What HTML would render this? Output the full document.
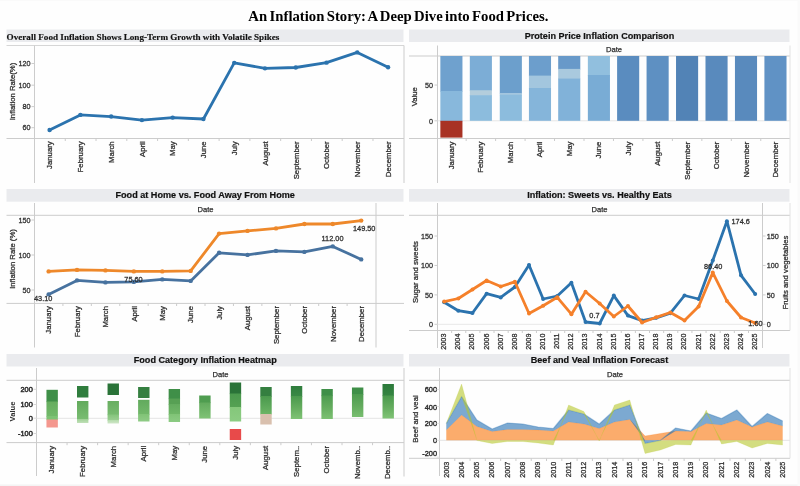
<!DOCTYPE html>
<html lang="en"><head><meta charset="utf-8"><title>An Inflation Story: A Deep Dive into Food Prices.</title>
<style>
html,body{margin:0;padding:0;background:#fff;}
body{width:800px;height:486px;overflow:hidden;}
svg{display:block;}
text.s{font-family:"Liberation Sans",sans-serif;}
text.r{font-family:"Liberation Serif",serif;}
</style></head><body>
<svg width="800" height="486" viewBox="0 0 800 486" role="img" aria-label="An Inflation Story dashboard">
<rect width="800" height="486" fill="#fefefe"/>
<rect x="0" y="484.4" width="800" height="1.6" fill="#f4f4f4"/>
<rect x="797.5" y="0" width="2.5" height="486" fill="#fafafa"/>
<rect x="0" y="0" width="800" height="1" fill="#fafafa"/>
<text class="r" transform="translate(398.40 21.00) scale(1.075 1)" font-size="13.7" text-anchor="middle" font-weight="bold" fill="#000" word-spacing="-1.2">An Inflation Story: A Deep Dive into Food Prices.</text>
<g id="c1">
<rect x="6.50" y="29.50" width="397.00" height="12.50" fill="#eaebee" />
<text class="r" transform="translate(6.60 40.10)" font-size="9.15" text-anchor="start" font-weight="bold" fill="#111" stroke="#111" stroke-width="0.15">Overall Food Inflation Shows Long-Term Growth with Volatile Spikes</text>
<line x1="6.5" y1="45.5" x2="404" y2="45.5" stroke="#d6d6d6" stroke-width="1"/>
<line x1="6.5" y1="138.5" x2="404" y2="138.5" stroke="#cccccc" stroke-width="1"/>
<line x1="34.5" y1="45.5" x2="34.5" y2="183" stroke="#cccccc" stroke-width="1"/>
<line x1="404" y1="45.5" x2="404" y2="183" stroke="#cccccc" stroke-width="1"/>
<line x1="31.5" y1="127.7" x2="34.5" y2="127.7" stroke="#cccccc" stroke-width="1"/>
<text class="s" transform="translate(30.60 130.44) scale(0.95 1)" font-size="7.6" text-anchor="end" fill="#2f2f2f" stroke="#2f2f2f" stroke-width="0.28">60</text>
<line x1="31.5" y1="106.6" x2="34.5" y2="106.6" stroke="#cccccc" stroke-width="1"/>
<text class="s" transform="translate(30.60 109.34) scale(0.95 1)" font-size="7.6" text-anchor="end" fill="#2f2f2f" stroke="#2f2f2f" stroke-width="0.28">80</text>
<line x1="31.5" y1="85.2" x2="34.5" y2="85.2" stroke="#cccccc" stroke-width="1"/>
<text class="s" transform="translate(30.60 87.94) scale(0.95 1)" font-size="7.6" text-anchor="end" fill="#2f2f2f" stroke="#2f2f2f" stroke-width="0.28">100</text>
<line x1="31.5" y1="63.5" x2="34.5" y2="63.5" stroke="#cccccc" stroke-width="1"/>
<text class="s" transform="translate(30.60 66.24) scale(0.95 1)" font-size="7.6" text-anchor="end" fill="#2f2f2f" stroke="#2f2f2f" stroke-width="0.28">120</text>
<text class="s" transform="translate(15.24 91.50) rotate(-90) scale(1.02 1)" font-size="7.6" text-anchor="middle" fill="#2f2f2f" stroke="#2f2f2f" stroke-width="0.28">Inflation Rate(%)</text>
<text class="s" transform="translate(52.34 141.30) rotate(-90) scale(1.025 1)" font-size="7.6" text-anchor="end" fill="#2f2f2f" stroke="#2f2f2f" stroke-width="0.28">January</text>
<text class="s" transform="translate(83.11 141.30) rotate(-90) scale(1.025 1)" font-size="7.6" text-anchor="end" fill="#2f2f2f" stroke="#2f2f2f" stroke-width="0.28">February</text>
<text class="s" transform="translate(113.88 141.30) rotate(-90) scale(1.025 1)" font-size="7.6" text-anchor="end" fill="#2f2f2f" stroke="#2f2f2f" stroke-width="0.28">March</text>
<text class="s" transform="translate(144.65 141.30) rotate(-90) scale(1.025 1)" font-size="7.6" text-anchor="end" fill="#2f2f2f" stroke="#2f2f2f" stroke-width="0.28">April</text>
<text class="s" transform="translate(175.42 141.30) rotate(-90) scale(1.025 1)" font-size="7.6" text-anchor="end" fill="#2f2f2f" stroke="#2f2f2f" stroke-width="0.28">May</text>
<text class="s" transform="translate(206.19 141.30) rotate(-90) scale(1.025 1)" font-size="7.6" text-anchor="end" fill="#2f2f2f" stroke="#2f2f2f" stroke-width="0.28">June</text>
<text class="s" transform="translate(236.96 141.30) rotate(-90) scale(1.025 1)" font-size="7.6" text-anchor="end" fill="#2f2f2f" stroke="#2f2f2f" stroke-width="0.28">July</text>
<text class="s" transform="translate(267.73 141.30) rotate(-90) scale(1.025 1)" font-size="7.6" text-anchor="end" fill="#2f2f2f" stroke="#2f2f2f" stroke-width="0.28">August</text>
<text class="s" transform="translate(298.50 141.30) rotate(-90) scale(1.025 1)" font-size="7.6" text-anchor="end" fill="#2f2f2f" stroke="#2f2f2f" stroke-width="0.28">September</text>
<text class="s" transform="translate(329.27 141.30) rotate(-90) scale(1.025 1)" font-size="7.6" text-anchor="end" fill="#2f2f2f" stroke="#2f2f2f" stroke-width="0.28">October</text>
<text class="s" transform="translate(360.04 141.30) rotate(-90) scale(1.025 1)" font-size="7.6" text-anchor="end" fill="#2f2f2f" stroke="#2f2f2f" stroke-width="0.28">November</text>
<text class="s" transform="translate(390.81 141.30) rotate(-90) scale(1.025 1)" font-size="7.6" text-anchor="end" fill="#2f2f2f" stroke="#2f2f2f" stroke-width="0.28">December</text>
<line x1="65.27" y1="138.5" x2="65.27" y2="141" stroke="#cccccc" stroke-width="1"/>
<line x1="96.03999999999999" y1="138.5" x2="96.03999999999999" y2="141" stroke="#cccccc" stroke-width="1"/>
<line x1="126.81" y1="138.5" x2="126.81" y2="141" stroke="#cccccc" stroke-width="1"/>
<line x1="157.57999999999998" y1="138.5" x2="157.57999999999998" y2="141" stroke="#cccccc" stroke-width="1"/>
<line x1="188.35" y1="138.5" x2="188.35" y2="141" stroke="#cccccc" stroke-width="1"/>
<line x1="219.12" y1="138.5" x2="219.12" y2="141" stroke="#cccccc" stroke-width="1"/>
<line x1="249.89" y1="138.5" x2="249.89" y2="141" stroke="#cccccc" stroke-width="1"/>
<line x1="280.65999999999997" y1="138.5" x2="280.65999999999997" y2="141" stroke="#cccccc" stroke-width="1"/>
<line x1="311.43" y1="138.5" x2="311.43" y2="141" stroke="#cccccc" stroke-width="1"/>
<line x1="342.2" y1="138.5" x2="342.2" y2="141" stroke="#cccccc" stroke-width="1"/>
<line x1="372.96999999999997" y1="138.5" x2="372.96999999999997" y2="141" stroke="#cccccc" stroke-width="1"/>
<polyline points="49.60,129.99 80.37,114.91 111.14,116.53 141.91,120.08 172.68,117.60 203.45,119.00 234.22,62.87 264.99,68.36 295.76,67.50 326.53,62.65 357.30,52.41 388.07,67.18" fill="none" stroke="#2b73ae" stroke-width="2.8" stroke-linejoin="round" stroke-linecap="round"/>
<circle cx="49.60" cy="129.99" r="2.2" fill="#2b73ae"/>
<circle cx="80.37" cy="114.91" r="2.2" fill="#2b73ae"/>
<circle cx="111.14" cy="116.53" r="2.2" fill="#2b73ae"/>
<circle cx="141.91" cy="120.08" r="2.2" fill="#2b73ae"/>
<circle cx="172.68" cy="117.60" r="2.2" fill="#2b73ae"/>
<circle cx="203.45" cy="119.00" r="2.2" fill="#2b73ae"/>
<circle cx="234.22" cy="62.87" r="2.2" fill="#2b73ae"/>
<circle cx="264.99" cy="68.36" r="2.2" fill="#2b73ae"/>
<circle cx="295.76" cy="67.50" r="2.2" fill="#2b73ae"/>
<circle cx="326.53" cy="62.65" r="2.2" fill="#2b73ae"/>
<circle cx="357.30" cy="52.41" r="2.2" fill="#2b73ae"/>
<circle cx="388.07" cy="67.18" r="2.2" fill="#2b73ae"/>
</g>
<g id="c2">
<rect x="6.50" y="189.00" width="397.00" height="12.70" fill="#eaebee" />
<text class="s" transform="translate(205.20 198.40)" font-size="9.1" text-anchor="middle" font-weight="bold" fill="#111" stroke="#111" stroke-width="0.2">Food at Home vs. Food Away From Home</text>
<text class="s" transform="translate(205.50 211.80)" font-size="7.6" text-anchor="middle" fill="#2f2f2f" stroke="#2f2f2f" stroke-width="0.25">Date</text>
<line x1="6.5" y1="215.3" x2="404" y2="215.3" stroke="#cccccc" stroke-width="1"/>
<line x1="6.5" y1="303.4" x2="404" y2="303.4" stroke="#cccccc" stroke-width="1"/>
<line x1="34.5" y1="203" x2="34.5" y2="347.5" stroke="#cccccc" stroke-width="1"/>
<line x1="376" y1="203" x2="376" y2="347.5" stroke="#cccccc" stroke-width="1"/>
<line x1="31.5" y1="290.0" x2="34.5" y2="290.0" stroke="#cccccc" stroke-width="1"/>
<text class="s" transform="translate(30.60 292.74) scale(0.95 1)" font-size="7.6" text-anchor="end" fill="#2f2f2f" stroke="#2f2f2f" stroke-width="0.28">50</text>
<line x1="31.5" y1="255.0" x2="34.5" y2="255.0" stroke="#cccccc" stroke-width="1"/>
<text class="s" transform="translate(30.60 257.74) scale(0.95 1)" font-size="7.6" text-anchor="end" fill="#2f2f2f" stroke="#2f2f2f" stroke-width="0.28">100</text>
<line x1="31.5" y1="220.0" x2="34.5" y2="220.0" stroke="#cccccc" stroke-width="1"/>
<text class="s" transform="translate(30.60 222.74) scale(0.95 1)" font-size="7.6" text-anchor="end" fill="#2f2f2f" stroke="#2f2f2f" stroke-width="0.28">150</text>
<text class="s" transform="translate(15.24 259.00) rotate(-90) scale(1.02 1)" font-size="7.6" text-anchor="middle" fill="#2f2f2f" stroke="#2f2f2f" stroke-width="0.28">Inflation Rate (%)</text>
<text class="s" transform="translate(51.34 306.00) rotate(-90) scale(1.025 1)" font-size="7.6" text-anchor="end" fill="#2f2f2f" stroke="#2f2f2f" stroke-width="0.28">January</text>
<text class="s" transform="translate(79.76 306.00) rotate(-90) scale(1.025 1)" font-size="7.6" text-anchor="end" fill="#2f2f2f" stroke="#2f2f2f" stroke-width="0.28">February</text>
<text class="s" transform="translate(108.18 306.00) rotate(-90) scale(1.025 1)" font-size="7.6" text-anchor="end" fill="#2f2f2f" stroke="#2f2f2f" stroke-width="0.28">March</text>
<text class="s" transform="translate(136.60 306.00) rotate(-90) scale(1.025 1)" font-size="7.6" text-anchor="end" fill="#2f2f2f" stroke="#2f2f2f" stroke-width="0.28">April</text>
<text class="s" transform="translate(165.02 306.00) rotate(-90) scale(1.025 1)" font-size="7.6" text-anchor="end" fill="#2f2f2f" stroke="#2f2f2f" stroke-width="0.28">May</text>
<text class="s" transform="translate(193.44 306.00) rotate(-90) scale(1.025 1)" font-size="7.6" text-anchor="end" fill="#2f2f2f" stroke="#2f2f2f" stroke-width="0.28">June</text>
<text class="s" transform="translate(221.86 306.00) rotate(-90) scale(1.025 1)" font-size="7.6" text-anchor="end" fill="#2f2f2f" stroke="#2f2f2f" stroke-width="0.28">July</text>
<text class="s" transform="translate(250.28 306.00) rotate(-90) scale(1.025 1)" font-size="7.6" text-anchor="end" fill="#2f2f2f" stroke="#2f2f2f" stroke-width="0.28">August</text>
<text class="s" transform="translate(278.70 306.00) rotate(-90) scale(1.025 1)" font-size="7.6" text-anchor="end" fill="#2f2f2f" stroke="#2f2f2f" stroke-width="0.28">September</text>
<text class="s" transform="translate(307.12 306.00) rotate(-90) scale(1.025 1)" font-size="7.6" text-anchor="end" fill="#2f2f2f" stroke="#2f2f2f" stroke-width="0.28">October</text>
<text class="s" transform="translate(335.54 306.00) rotate(-90) scale(1.025 1)" font-size="7.6" text-anchor="end" fill="#2f2f2f" stroke="#2f2f2f" stroke-width="0.28">November</text>
<text class="s" transform="translate(363.96 306.00) rotate(-90) scale(1.025 1)" font-size="7.6" text-anchor="end" fill="#2f2f2f" stroke="#2f2f2f" stroke-width="0.28">December</text>
<line x1="62.92" y1="303.4" x2="62.92" y2="306" stroke="#cccccc" stroke-width="1"/>
<line x1="91.34" y1="303.4" x2="91.34" y2="306" stroke="#cccccc" stroke-width="1"/>
<line x1="119.76" y1="303.4" x2="119.76" y2="306" stroke="#cccccc" stroke-width="1"/>
<line x1="148.18" y1="303.4" x2="148.18" y2="306" stroke="#cccccc" stroke-width="1"/>
<line x1="176.60000000000002" y1="303.4" x2="176.60000000000002" y2="306" stroke="#cccccc" stroke-width="1"/>
<line x1="205.02" y1="303.4" x2="205.02" y2="306" stroke="#cccccc" stroke-width="1"/>
<line x1="233.44" y1="303.4" x2="233.44" y2="306" stroke="#cccccc" stroke-width="1"/>
<line x1="261.86" y1="303.4" x2="261.86" y2="306" stroke="#cccccc" stroke-width="1"/>
<line x1="290.28000000000003" y1="303.4" x2="290.28000000000003" y2="306" stroke="#cccccc" stroke-width="1"/>
<line x1="318.70000000000005" y1="303.4" x2="318.70000000000005" y2="306" stroke="#cccccc" stroke-width="1"/>
<line x1="347.12" y1="303.4" x2="347.12" y2="306" stroke="#cccccc" stroke-width="1"/>
<polyline points="48.60,294.40 77.02,280.40 105.44,282.40 133.86,281.90 162.28,279.40 190.70,280.90 219.12,252.80 247.54,254.90 275.96,250.90 304.38,251.90 332.80,246.40 361.22,259.40" fill="none" stroke="#47729f" stroke-width="2.8" stroke-linejoin="round" stroke-linecap="round"/>
<circle cx="48.60" cy="294.40" r="2.2" fill="#47729f"/>
<circle cx="77.02" cy="280.40" r="2.2" fill="#47729f"/>
<circle cx="105.44" cy="282.40" r="2.2" fill="#47729f"/>
<circle cx="133.86" cy="281.90" r="2.2" fill="#47729f"/>
<circle cx="162.28" cy="279.40" r="2.2" fill="#47729f"/>
<circle cx="190.70" cy="280.90" r="2.2" fill="#47729f"/>
<circle cx="219.12" cy="252.80" r="2.2" fill="#47729f"/>
<circle cx="247.54" cy="254.90" r="2.2" fill="#47729f"/>
<circle cx="275.96" cy="250.90" r="2.2" fill="#47729f"/>
<circle cx="304.38" cy="251.90" r="2.2" fill="#47729f"/>
<circle cx="332.80" cy="246.40" r="2.2" fill="#47729f"/>
<circle cx="361.22" cy="259.40" r="2.2" fill="#47729f"/>
<polyline points="48.60,271.40 77.02,269.90 105.44,270.40 133.86,271.40 162.28,271.40 190.70,270.90 219.12,233.60 247.54,230.90 275.96,228.40 304.38,224.00 332.80,224.00 361.22,220.60" fill="none" stroke="#ee882a" stroke-width="2.8" stroke-linejoin="round" stroke-linecap="round"/>
<circle cx="48.60" cy="271.40" r="2.2" fill="#ee882a"/>
<circle cx="77.02" cy="269.90" r="2.2" fill="#ee882a"/>
<circle cx="105.44" cy="270.40" r="2.2" fill="#ee882a"/>
<circle cx="133.86" cy="271.40" r="2.2" fill="#ee882a"/>
<circle cx="162.28" cy="271.40" r="2.2" fill="#ee882a"/>
<circle cx="190.70" cy="270.90" r="2.2" fill="#ee882a"/>
<circle cx="219.12" cy="233.60" r="2.2" fill="#ee882a"/>
<circle cx="247.54" cy="230.90" r="2.2" fill="#ee882a"/>
<circle cx="275.96" cy="228.40" r="2.2" fill="#ee882a"/>
<circle cx="304.38" cy="224.00" r="2.2" fill="#ee882a"/>
<circle cx="332.80" cy="224.00" r="2.2" fill="#ee882a"/>
<circle cx="361.22" cy="220.60" r="2.2" fill="#ee882a"/>
<text class="s" transform="translate(43.20 300.80) scale(0.97 1)" font-size="7.6" text-anchor="middle" fill="#2f2f2f" stroke="#2f2f2f" stroke-width="0.28">43.10</text>
<text class="s" transform="translate(133.50 281.80) scale(0.97 1)" font-size="7.6" text-anchor="middle" fill="#2f2f2f" stroke="#2f2f2f" stroke-width="0.28">75.60</text>
<text class="s" transform="translate(332.50 241.20) scale(0.97 1)" font-size="7.6" text-anchor="middle" fill="#2f2f2f" stroke="#2f2f2f" stroke-width="0.28">112.00</text>
<text class="s" transform="translate(364.20 230.70) scale(0.97 1)" font-size="7.6" text-anchor="middle" fill="#2f2f2f" stroke="#2f2f2f" stroke-width="0.28">149.50</text>
</g>
<g id="c3">
<rect x="6.50" y="354.00" width="397.00" height="12.50" fill="#eaebee" />
<text class="s" transform="translate(205.20 363.20)" font-size="9.1" text-anchor="middle" font-weight="bold" fill="#111" stroke="#111" stroke-width="0.2">Food Category Inflation Heatmap</text>
<text class="s" transform="translate(220.50 376.80)" font-size="7.6" text-anchor="middle" fill="#2f2f2f" stroke="#2f2f2f" stroke-width="0.25">Date</text>
<line x1="6.5" y1="380.3" x2="404" y2="380.3" stroke="#cccccc" stroke-width="1"/>
<line x1="6.5" y1="442.6" x2="404" y2="442.6" stroke="#cccccc" stroke-width="1"/>
<line x1="36.5" y1="368" x2="36.5" y2="476" stroke="#cccccc" stroke-width="1"/>
<line x1="404" y1="368" x2="404" y2="476.5" stroke="#cccccc" stroke-width="1"/>
<line x1="36.5" y1="418.3" x2="404" y2="418.3" stroke="#e4e4e4" stroke-width="1"/>
<line x1="33.5" y1="433.5" x2="36.5" y2="433.5" stroke="#d8d8d8" stroke-width="1"/>
<text class="s" transform="translate(32.80 436.24) scale(0.97 1)" font-size="7.6" text-anchor="end" fill="#2f2f2f" stroke="#2f2f2f" stroke-width="0.5">-100</text>
<line x1="33.5" y1="418.2" x2="36.5" y2="418.2" stroke="#d8d8d8" stroke-width="1"/>
<text class="s" transform="translate(32.80 420.94) scale(0.97 1)" font-size="7.6" text-anchor="end" fill="#2f2f2f" stroke="#2f2f2f" stroke-width="0.5">0</text>
<line x1="33.5" y1="404.5" x2="36.5" y2="404.5" stroke="#d8d8d8" stroke-width="1"/>
<text class="s" transform="translate(32.80 407.24) scale(0.97 1)" font-size="7.6" text-anchor="end" fill="#2f2f2f" stroke="#2f2f2f" stroke-width="0.5">100</text>
<line x1="33.5" y1="389.3" x2="36.5" y2="389.3" stroke="#d8d8d8" stroke-width="1"/>
<text class="s" transform="translate(32.80 392.04) scale(0.97 1)" font-size="7.6" text-anchor="end" fill="#2f2f2f" stroke="#2f2f2f" stroke-width="0.5">200</text>
<text class="s" transform="translate(15.04 411.50) rotate(-90)" font-size="7.6" text-anchor="middle" font-weight="bold" fill="#2f2f2f">Value</text>
<text class="s" transform="translate(54.44 445.80) rotate(-90) scale(1.025 1)" font-size="7.6" text-anchor="end" fill="#2f2f2f" stroke="#2f2f2f" stroke-width="0.28">January</text>
<text class="s" transform="translate(84.99 445.80) rotate(-90) scale(1.025 1)" font-size="7.6" text-anchor="end" fill="#2f2f2f" stroke="#2f2f2f" stroke-width="0.28">February</text>
<text class="s" transform="translate(115.54 445.80) rotate(-90) scale(1.025 1)" font-size="7.6" text-anchor="end" fill="#2f2f2f" stroke="#2f2f2f" stroke-width="0.28">March</text>
<text class="s" transform="translate(146.09 445.80) rotate(-90) scale(1.025 1)" font-size="7.6" text-anchor="end" fill="#2f2f2f" stroke="#2f2f2f" stroke-width="0.28">April</text>
<text class="s" transform="translate(176.64 445.80) rotate(-90) scale(1.025 1)" font-size="7.6" text-anchor="end" fill="#2f2f2f" stroke="#2f2f2f" stroke-width="0.28">May</text>
<text class="s" transform="translate(207.19 445.80) rotate(-90) scale(1.025 1)" font-size="7.6" text-anchor="end" fill="#2f2f2f" stroke="#2f2f2f" stroke-width="0.28">June</text>
<text class="s" transform="translate(237.74 445.80) rotate(-90) scale(1.025 1)" font-size="7.6" text-anchor="end" fill="#2f2f2f" stroke="#2f2f2f" stroke-width="0.28">July</text>
<text class="s" transform="translate(268.29 445.80) rotate(-90) scale(1.025 1)" font-size="7.6" text-anchor="end" fill="#2f2f2f" stroke="#2f2f2f" stroke-width="0.28">August</text>
<text class="s" transform="translate(298.84 445.80) rotate(-90) scale(1.025 1)" font-size="7.6" text-anchor="end" fill="#2f2f2f" stroke="#2f2f2f" stroke-width="0.28">Septem..</text>
<text class="s" transform="translate(329.39 445.80) rotate(-90) scale(1.025 1)" font-size="7.6" text-anchor="end" fill="#2f2f2f" stroke="#2f2f2f" stroke-width="0.28">October</text>
<text class="s" transform="translate(359.94 445.80) rotate(-90) scale(1.025 1)" font-size="7.6" text-anchor="end" fill="#2f2f2f" stroke="#2f2f2f" stroke-width="0.28">Novemb..</text>
<text class="s" transform="translate(390.49 445.80) rotate(-90) scale(1.025 1)" font-size="7.6" text-anchor="end" fill="#2f2f2f" stroke="#2f2f2f" stroke-width="0.28">Decemb..</text>
<line x1="67.05" y1="442.6" x2="67.05" y2="445.2" stroke="#cccccc" stroke-width="1"/>
<line x1="97.6" y1="442.6" x2="97.6" y2="445.2" stroke="#cccccc" stroke-width="1"/>
<line x1="128.15" y1="442.6" x2="128.15" y2="445.2" stroke="#cccccc" stroke-width="1"/>
<line x1="158.7" y1="442.6" x2="158.7" y2="445.2" stroke="#cccccc" stroke-width="1"/>
<line x1="189.25" y1="442.6" x2="189.25" y2="445.2" stroke="#cccccc" stroke-width="1"/>
<line x1="219.8" y1="442.6" x2="219.8" y2="445.2" stroke="#cccccc" stroke-width="1"/>
<line x1="250.35" y1="442.6" x2="250.35" y2="445.2" stroke="#cccccc" stroke-width="1"/>
<line x1="280.9" y1="442.6" x2="280.9" y2="445.2" stroke="#cccccc" stroke-width="1"/>
<line x1="311.45" y1="442.6" x2="311.45" y2="445.2" stroke="#cccccc" stroke-width="1"/>
<line x1="342.0" y1="442.6" x2="342.0" y2="445.2" stroke="#cccccc" stroke-width="1"/>
<line x1="372.55" y1="442.6" x2="372.55" y2="445.2" stroke="#cccccc" stroke-width="1"/>
<rect x="46.45" y="389.80" width="11.40" height="12.30" fill="#3f8f48" />
<linearGradient id="g1" x1="0" y1="0" x2="0" y2="1"><stop offset="0.000" stop-color="#66ad5f"/><stop offset="1.000" stop-color="#72b96a"/></linearGradient>
<rect x="46.45" y="401.50" width="11.40" height="15.10" fill="url(#g1)" />
<rect x="46.45" y="416.00" width="11.40" height="4.10" fill="#7dc274" />
<rect x="46.45" y="419.50" width="11.40" height="8.00" fill="#f4978e" />
<rect x="77.00" y="386.00" width="11.40" height="11.50" fill="#2f7d3d" />
<linearGradient id="g2" x1="0" y1="0" x2="0" y2="1"><stop offset="0.000" stop-color="#62aa5c"/><stop offset="1.000" stop-color="#7abd72"/></linearGradient>
<rect x="77.00" y="401.00" width="11.40" height="18.60" fill="url(#g2)" />
<linearGradient id="g3" x1="0" y1="0" x2="0" y2="1"><stop offset="0.000" stop-color="#9fd095"/><stop offset="1.000" stop-color="#c0e0b8"/></linearGradient>
<rect x="77.00" y="419.00" width="11.40" height="4.00" fill="url(#g3)" />
<rect x="107.55" y="383.50" width="11.40" height="11.50" fill="#2a7338" />
<linearGradient id="g4" x1="0" y1="0" x2="0" y2="1"><stop offset="0.000" stop-color="#68ae61"/><stop offset="1.000" stop-color="#78bb70"/></linearGradient>
<rect x="107.55" y="401.00" width="11.40" height="14.10" fill="url(#g4)" />
<linearGradient id="g5" x1="0" y1="0" x2="0" y2="1"><stop offset="0.000" stop-color="#84c47b"/><stop offset="1.000" stop-color="#9ccf93"/></linearGradient>
<rect x="107.55" y="414.50" width="11.40" height="6.10" fill="url(#g5)" />
<linearGradient id="g6" x1="0" y1="0" x2="0" y2="1"><stop offset="0.000" stop-color="#b4dbab"/><stop offset="1.000" stop-color="#cfe6c8"/></linearGradient>
<rect x="107.55" y="420.00" width="11.40" height="3.50" fill="url(#g6)" />
<rect x="138.10" y="387.00" width="11.40" height="11.00" fill="#347f40" />
<linearGradient id="g7" x1="0" y1="0" x2="0" y2="1"><stop offset="0.000" stop-color="#62aa5d"/><stop offset="1.000" stop-color="#72b86a"/></linearGradient>
<rect x="138.10" y="399.80" width="11.40" height="14.80" fill="url(#g7)" />
<linearGradient id="g8" x1="0" y1="0" x2="0" y2="1"><stop offset="0.000" stop-color="#80c376"/><stop offset="1.000" stop-color="#8fcb86"/></linearGradient>
<rect x="138.10" y="414.00" width="11.40" height="7.50" fill="url(#g8)" />
<rect x="168.65" y="389.00" width="11.40" height="10.10" fill="#3f8f48" />
<rect x="168.65" y="398.50" width="11.40" height="6.10" fill="#57a054" />
<linearGradient id="g9" x1="0" y1="0" x2="0" y2="1"><stop offset="0.000" stop-color="#63ab5e"/><stop offset="1.000" stop-color="#70b768"/></linearGradient>
<rect x="168.65" y="404.00" width="11.40" height="10.60" fill="url(#g9)" />
<linearGradient id="g10" x1="0" y1="0" x2="0" y2="1"><stop offset="0.000" stop-color="#80c376"/><stop offset="1.000" stop-color="#8ccb83"/></linearGradient>
<rect x="168.65" y="414.00" width="11.40" height="8.00" fill="url(#g10)" />
<rect x="199.20" y="395.50" width="11.40" height="7.60" fill="#4f9d50" />
<linearGradient id="g11" x1="0" y1="0" x2="0" y2="1"><stop offset="0.000" stop-color="#62aa5d"/><stop offset="1.000" stop-color="#80c376"/></linearGradient>
<rect x="199.20" y="402.50" width="11.40" height="16.00" fill="url(#g11)" />
<rect x="229.75" y="382.50" width="11.40" height="11.60" fill="#2a7338" />
<linearGradient id="g12" x1="0" y1="0" x2="0" y2="1"><stop offset="0.000" stop-color="#4a994d"/><stop offset="1.000" stop-color="#55a153"/></linearGradient>
<rect x="229.75" y="393.50" width="11.40" height="14.10" fill="url(#g12)" />
<linearGradient id="g13" x1="0" y1="0" x2="0" y2="1"><stop offset="0.000" stop-color="#84c77a"/><stop offset="1.000" stop-color="#8ccc83"/></linearGradient>
<rect x="229.75" y="407.00" width="11.40" height="14.50" fill="url(#g13)" />
<rect x="229.75" y="429.00" width="11.40" height="11.00" fill="#e84a4a" />
<rect x="260.30" y="387.00" width="11.40" height="9.60" fill="#347f40" />
<linearGradient id="g14" x1="0" y1="0" x2="0" y2="1"><stop offset="0.000" stop-color="#4a994d"/><stop offset="1.000" stop-color="#6cb565"/></linearGradient>
<rect x="260.30" y="396.00" width="11.40" height="18.60" fill="url(#g14)" />
<rect x="260.30" y="414.00" width="11.40" height="10.50" fill="#d9c0ae" />
<linearGradient id="g15" x1="0" y1="0" x2="0" y2="1"><stop offset="0.000" stop-color="#2f7d3d"/><stop offset="1.000" stop-color="#3a8945"/></linearGradient>
<rect x="290.85" y="386.00" width="11.40" height="10.60" fill="url(#g15)" />
<linearGradient id="g16" x1="0" y1="0" x2="0" y2="1"><stop offset="0.000" stop-color="#4a994d"/><stop offset="0.500" stop-color="#64ac5e"/><stop offset="1.000" stop-color="#7fc375"/></linearGradient>
<rect x="290.85" y="396.00" width="11.40" height="23.00" fill="url(#g16)" />
<rect x="321.40" y="389.00" width="11.40" height="7.10" fill="#3f8f48" />
<linearGradient id="g17" x1="0" y1="0" x2="0" y2="1"><stop offset="0.000" stop-color="#4d9b4f"/><stop offset="0.500" stop-color="#64ac5e"/><stop offset="1.000" stop-color="#7cc172"/></linearGradient>
<rect x="321.40" y="395.50" width="11.40" height="23.50" fill="url(#g17)" />
<rect x="351.95" y="387.50" width="11.40" height="7.10" fill="#3f8f48" />
<linearGradient id="g18" x1="0" y1="0" x2="0" y2="1"><stop offset="0.000" stop-color="#4d9b4f"/><stop offset="0.500" stop-color="#62aa5d"/><stop offset="1.000" stop-color="#78be6f"/></linearGradient>
<rect x="351.95" y="394.00" width="11.40" height="23.00" fill="url(#g18)" />
<linearGradient id="g19" x1="0" y1="0" x2="0" y2="1"><stop offset="0.000" stop-color="#2c7a3b"/><stop offset="1.000" stop-color="#368542"/></linearGradient>
<rect x="382.50" y="384.00" width="11.40" height="12.10" fill="url(#g19)" />
<linearGradient id="g20" x1="0" y1="0" x2="0" y2="1"><stop offset="0.000" stop-color="#4a994d"/><stop offset="0.500" stop-color="#64ac5e"/><stop offset="1.000" stop-color="#80c476"/></linearGradient>
<rect x="382.50" y="395.50" width="11.40" height="23.00" fill="url(#g20)" />
</g>
<g id="c4">
<rect x="409.00" y="29.50" width="380.50" height="12.50" fill="#eaebee" />
<text class="s" transform="translate(599.45 39.00)" font-size="9.1" text-anchor="middle" font-weight="bold" fill="#111" stroke="#111" stroke-width="0.2">Protein Price Inflation Comparison</text>
<text class="s" transform="translate(614.00 52.20)" font-size="7.6" text-anchor="middle" fill="#2f2f2f" stroke="#2f2f2f" stroke-width="0.25">Date</text>
<line x1="409" y1="56" x2="790" y2="56" stroke="#cccccc" stroke-width="1"/>
<line x1="409" y1="138.5" x2="790" y2="138.5" stroke="#cccccc" stroke-width="1"/>
<line x1="437.5" y1="45.5" x2="437.5" y2="183" stroke="#cccccc" stroke-width="1"/>
<line x1="790" y1="45.5" x2="790" y2="183" stroke="#e2e2e2" stroke-width="1"/>
<line x1="437.5" y1="120.8" x2="790" y2="120.8" stroke="#e6e6e6" stroke-width="1"/>
<line x1="434.5" y1="120.8" x2="437.5" y2="120.8" stroke="#cccccc" stroke-width="1"/>
<text class="s" transform="translate(433.00 123.54) scale(0.95 1)" font-size="7.6" text-anchor="end" fill="#2f2f2f" stroke="#2f2f2f" stroke-width="0.28">0</text>
<line x1="434.5" y1="85.05" x2="437.5" y2="85.05" stroke="#cccccc" stroke-width="1"/>
<text class="s" transform="translate(433.00 87.79) scale(0.95 1)" font-size="7.6" text-anchor="end" fill="#2f2f2f" stroke="#2f2f2f" stroke-width="0.28">50</text>
<text class="s" transform="translate(417.34 96.70) rotate(-90) scale(1.02 1)" font-size="7.6" text-anchor="middle" fill="#2f2f2f" stroke="#2f2f2f" stroke-width="0.28">Value</text>
<text class="s" transform="translate(453.99 141.60) rotate(-90) scale(1.025 1)" font-size="7.6" text-anchor="end" fill="#2f2f2f" stroke="#2f2f2f" stroke-width="0.28">January</text>
<text class="s" transform="translate(483.45 141.60) rotate(-90) scale(1.025 1)" font-size="7.6" text-anchor="end" fill="#2f2f2f" stroke="#2f2f2f" stroke-width="0.28">February</text>
<text class="s" transform="translate(512.91 141.60) rotate(-90) scale(1.025 1)" font-size="7.6" text-anchor="end" fill="#2f2f2f" stroke="#2f2f2f" stroke-width="0.28">March</text>
<text class="s" transform="translate(542.37 141.60) rotate(-90) scale(1.025 1)" font-size="7.6" text-anchor="end" fill="#2f2f2f" stroke="#2f2f2f" stroke-width="0.28">April</text>
<text class="s" transform="translate(571.83 141.60) rotate(-90) scale(1.025 1)" font-size="7.6" text-anchor="end" fill="#2f2f2f" stroke="#2f2f2f" stroke-width="0.28">May</text>
<text class="s" transform="translate(601.29 141.60) rotate(-90) scale(1.025 1)" font-size="7.6" text-anchor="end" fill="#2f2f2f" stroke="#2f2f2f" stroke-width="0.28">June</text>
<text class="s" transform="translate(630.75 141.60) rotate(-90) scale(1.025 1)" font-size="7.6" text-anchor="end" fill="#2f2f2f" stroke="#2f2f2f" stroke-width="0.28">July</text>
<text class="s" transform="translate(660.21 141.60) rotate(-90) scale(1.025 1)" font-size="7.6" text-anchor="end" fill="#2f2f2f" stroke="#2f2f2f" stroke-width="0.28">August</text>
<text class="s" transform="translate(689.67 141.60) rotate(-90) scale(1.025 1)" font-size="7.6" text-anchor="end" fill="#2f2f2f" stroke="#2f2f2f" stroke-width="0.28">September</text>
<text class="s" transform="translate(719.13 141.60) rotate(-90) scale(1.025 1)" font-size="7.6" text-anchor="end" fill="#2f2f2f" stroke="#2f2f2f" stroke-width="0.28">October</text>
<text class="s" transform="translate(748.59 141.60) rotate(-90) scale(1.025 1)" font-size="7.6" text-anchor="end" fill="#2f2f2f" stroke="#2f2f2f" stroke-width="0.28">November</text>
<text class="s" transform="translate(778.05 141.60) rotate(-90) scale(1.025 1)" font-size="7.6" text-anchor="end" fill="#2f2f2f" stroke="#2f2f2f" stroke-width="0.28">December</text>
<line x1="466.15999999999997" y1="138.5" x2="466.15999999999997" y2="141" stroke="#cccccc" stroke-width="1"/>
<line x1="495.62" y1="138.5" x2="495.62" y2="141" stroke="#cccccc" stroke-width="1"/>
<line x1="525.0799999999999" y1="138.5" x2="525.0799999999999" y2="141" stroke="#cccccc" stroke-width="1"/>
<line x1="554.54" y1="138.5" x2="554.54" y2="141" stroke="#cccccc" stroke-width="1"/>
<line x1="584.0" y1="138.5" x2="584.0" y2="141" stroke="#cccccc" stroke-width="1"/>
<line x1="613.46" y1="138.5" x2="613.46" y2="141" stroke="#cccccc" stroke-width="1"/>
<line x1="642.92" y1="138.5" x2="642.92" y2="141" stroke="#cccccc" stroke-width="1"/>
<line x1="672.38" y1="138.5" x2="672.38" y2="141" stroke="#cccccc" stroke-width="1"/>
<line x1="701.8399999999999" y1="138.5" x2="701.8399999999999" y2="141" stroke="#cccccc" stroke-width="1"/>
<line x1="731.3" y1="138.5" x2="731.3" y2="141" stroke="#cccccc" stroke-width="1"/>
<line x1="760.76" y1="138.5" x2="760.76" y2="141" stroke="#cccccc" stroke-width="1"/>
<rect x="440.35" y="56.00" width="22.10" height="35.60" fill="#6fa1ce" />
<rect x="440.35" y="91.00" width="22.10" height="30.40" fill="#88b8dc" />
<rect x="440.35" y="120.80" width="22.10" height="16.80" fill="#a83224" />
<rect x="469.81" y="56.00" width="22.10" height="34.90" fill="#7cadd6" />
<rect x="469.81" y="90.30" width="22.10" height="5.50" fill="#b3cddc" />
<rect x="469.81" y="95.20" width="22.10" height="25.60" fill="#8cbcdd" />
<rect x="499.77" y="56.00" width="22.10" height="37.60" fill="#6c9fcc" />
<rect x="499.77" y="93.00" width="22.10" height="2.40" fill="#a3c6df" />
<rect x="499.77" y="94.80" width="22.10" height="26.00" fill="#8cbcdd" />
<rect x="528.93" y="56.00" width="22.10" height="20.20" fill="#6c9ecc" />
<rect x="528.93" y="75.60" width="22.10" height="13.00" fill="#a3c6de" />
<rect x="528.93" y="88.00" width="22.10" height="32.80" fill="#85b5da" />
<rect x="558.19" y="56.00" width="22.10" height="13.50" fill="#6899c9" />
<rect x="558.19" y="68.90" width="22.10" height="10.30" fill="#a9c9de" />
<rect x="558.19" y="78.60" width="22.10" height="42.20" fill="#81b2d9" />
<rect x="587.85" y="56.00" width="22.10" height="19.60" fill="#91bfde" />
<rect x="587.85" y="75.00" width="22.10" height="45.80" fill="#79acd5" />
<rect x="617.11" y="56.00" width="22.10" height="64.80" fill="#5a8cbf" />
<rect x="646.57" y="56.00" width="22.10" height="64.80" fill="#5e90c2" />
<rect x="676.03" y="56.00" width="22.10" height="64.80" fill="#5283b6" />
<rect x="705.49" y="56.00" width="22.10" height="64.80" fill="#598abd" />
<rect x="734.95" y="56.00" width="22.10" height="64.80" fill="#598abd" />
<rect x="764.41" y="56.00" width="22.10" height="64.80" fill="#6092c5" />
</g>
<g id="c5">
<rect x="409.00" y="189.00" width="380.50" height="12.70" fill="#eaebee" />
<text class="s" transform="translate(599.45 198.40)" font-size="9.1" text-anchor="middle" font-weight="bold" fill="#111" stroke="#111" stroke-width="0.2">Inflation: Sweets vs. Healthy Eats</text>
<text class="s" transform="translate(599.50 211.80)" font-size="7.6" text-anchor="middle" fill="#2f2f2f" stroke="#2f2f2f" stroke-width="0.25">Date</text>
<line x1="409" y1="215.3" x2="790" y2="215.3" stroke="#cccccc" stroke-width="1"/>
<line x1="409" y1="330.5" x2="790" y2="330.5" stroke="#cccccc" stroke-width="1"/>
<line x1="437.5" y1="203" x2="437.5" y2="348" stroke="#cccccc" stroke-width="1"/>
<line x1="762.5" y1="203" x2="762.5" y2="348" stroke="#cccccc" stroke-width="1"/>
<line x1="790" y1="203" x2="790" y2="330.5" stroke="#e2e2e2" stroke-width="1"/>
<line x1="437.5" y1="324.3" x2="762.5" y2="324.3" stroke="#e8e8e8" stroke-width="1"/>
<line x1="434.5" y1="324.3" x2="437.5" y2="324.3" stroke="#cccccc" stroke-width="1"/>
<text class="s" transform="translate(433.00 327.04) scale(0.95 1)" font-size="7.6" text-anchor="end" fill="#2f2f2f" stroke="#2f2f2f" stroke-width="0.28">0</text>
<line x1="762.5" y1="324.3" x2="765.5" y2="324.3" stroke="#cccccc" stroke-width="1"/>
<text class="s" transform="translate(766.80 327.04) scale(0.95 1)" font-size="7.6" text-anchor="start" fill="#2f2f2f" stroke="#2f2f2f" stroke-width="0.28">0</text>
<line x1="434.5" y1="294.875" x2="437.5" y2="294.875" stroke="#cccccc" stroke-width="1"/>
<text class="s" transform="translate(433.00 297.61) scale(0.95 1)" font-size="7.6" text-anchor="end" fill="#2f2f2f" stroke="#2f2f2f" stroke-width="0.28">50</text>
<line x1="762.5" y1="294.875" x2="765.5" y2="294.875" stroke="#cccccc" stroke-width="1"/>
<text class="s" transform="translate(766.80 297.61) scale(0.95 1)" font-size="7.6" text-anchor="start" fill="#2f2f2f" stroke="#2f2f2f" stroke-width="0.28">50</text>
<line x1="434.5" y1="265.45" x2="437.5" y2="265.45" stroke="#cccccc" stroke-width="1"/>
<text class="s" transform="translate(433.00 268.19) scale(0.95 1)" font-size="7.6" text-anchor="end" fill="#2f2f2f" stroke="#2f2f2f" stroke-width="0.28">100</text>
<line x1="762.5" y1="265.45" x2="765.5" y2="265.45" stroke="#cccccc" stroke-width="1"/>
<text class="s" transform="translate(766.80 268.19) scale(0.95 1)" font-size="7.6" text-anchor="start" fill="#2f2f2f" stroke="#2f2f2f" stroke-width="0.28">100</text>
<line x1="434.5" y1="236.025" x2="437.5" y2="236.025" stroke="#cccccc" stroke-width="1"/>
<text class="s" transform="translate(433.00 238.76) scale(0.95 1)" font-size="7.6" text-anchor="end" fill="#2f2f2f" stroke="#2f2f2f" stroke-width="0.28">150</text>
<line x1="762.5" y1="236.025" x2="765.5" y2="236.025" stroke="#cccccc" stroke-width="1"/>
<text class="s" transform="translate(766.80 238.76) scale(0.95 1)" font-size="7.6" text-anchor="start" fill="#2f2f2f" stroke="#2f2f2f" stroke-width="0.28">150</text>
<text class="s" transform="translate(417.74 272.00) rotate(-90) scale(1.02 1)" font-size="7.6" text-anchor="middle" fill="#2f2f2f" stroke="#2f2f2f" stroke-width="0.28">Sugar and sweets</text>
<text class="s" transform="translate(788.34 272.50) rotate(-90) scale(1.02 1)" font-size="7.6" text-anchor="middle" fill="#2f2f2f" stroke="#2f2f2f" stroke-width="0.28">Fruits and vegetables</text>
<text class="s" transform="translate(446.14 333.60) rotate(-90) scale(0.95 1)" font-size="7.6" text-anchor="end" fill="#2f2f2f" stroke="#2f2f2f" stroke-width="0.28">2003</text>
<text class="s" transform="translate(460.27 333.60) rotate(-90) scale(0.95 1)" font-size="7.6" text-anchor="end" fill="#2f2f2f" stroke="#2f2f2f" stroke-width="0.28">2004</text>
<text class="s" transform="translate(474.41 333.60) rotate(-90) scale(0.95 1)" font-size="7.6" text-anchor="end" fill="#2f2f2f" stroke="#2f2f2f" stroke-width="0.28">2005</text>
<text class="s" transform="translate(488.54 333.60) rotate(-90) scale(0.95 1)" font-size="7.6" text-anchor="end" fill="#2f2f2f" stroke="#2f2f2f" stroke-width="0.28">2006</text>
<text class="s" transform="translate(502.68 333.60) rotate(-90) scale(0.95 1)" font-size="7.6" text-anchor="end" fill="#2f2f2f" stroke="#2f2f2f" stroke-width="0.28">2007</text>
<text class="s" transform="translate(516.81 333.60) rotate(-90) scale(0.95 1)" font-size="7.6" text-anchor="end" fill="#2f2f2f" stroke="#2f2f2f" stroke-width="0.28">2008</text>
<text class="s" transform="translate(530.95 333.60) rotate(-90) scale(0.95 1)" font-size="7.6" text-anchor="end" fill="#2f2f2f" stroke="#2f2f2f" stroke-width="0.28">2009</text>
<text class="s" transform="translate(545.08 333.60) rotate(-90) scale(0.95 1)" font-size="7.6" text-anchor="end" fill="#2f2f2f" stroke="#2f2f2f" stroke-width="0.28">2010</text>
<text class="s" transform="translate(559.22 333.60) rotate(-90) scale(0.95 1)" font-size="7.6" text-anchor="end" fill="#2f2f2f" stroke="#2f2f2f" stroke-width="0.28">2011</text>
<text class="s" transform="translate(573.35 333.60) rotate(-90) scale(0.95 1)" font-size="7.6" text-anchor="end" fill="#2f2f2f" stroke="#2f2f2f" stroke-width="0.28">2012</text>
<text class="s" transform="translate(587.49 333.60) rotate(-90) scale(0.95 1)" font-size="7.6" text-anchor="end" fill="#2f2f2f" stroke="#2f2f2f" stroke-width="0.28">2013</text>
<text class="s" transform="translate(601.62 333.60) rotate(-90) scale(0.95 1)" font-size="7.6" text-anchor="end" fill="#2f2f2f" stroke="#2f2f2f" stroke-width="0.28">2014</text>
<text class="s" transform="translate(615.76 333.60) rotate(-90) scale(0.95 1)" font-size="7.6" text-anchor="end" fill="#2f2f2f" stroke="#2f2f2f" stroke-width="0.28">2015</text>
<text class="s" transform="translate(629.89 333.60) rotate(-90) scale(0.95 1)" font-size="7.6" text-anchor="end" fill="#2f2f2f" stroke="#2f2f2f" stroke-width="0.28">2016</text>
<text class="s" transform="translate(644.03 333.60) rotate(-90) scale(0.95 1)" font-size="7.6" text-anchor="end" fill="#2f2f2f" stroke="#2f2f2f" stroke-width="0.28">2017</text>
<text class="s" transform="translate(658.16 333.60) rotate(-90) scale(0.95 1)" font-size="7.6" text-anchor="end" fill="#2f2f2f" stroke="#2f2f2f" stroke-width="0.28">2018</text>
<text class="s" transform="translate(672.30 333.60) rotate(-90) scale(0.95 1)" font-size="7.6" text-anchor="end" fill="#2f2f2f" stroke="#2f2f2f" stroke-width="0.28">2019</text>
<text class="s" transform="translate(686.43 333.60) rotate(-90) scale(0.95 1)" font-size="7.6" text-anchor="end" fill="#2f2f2f" stroke="#2f2f2f" stroke-width="0.28">2020</text>
<text class="s" transform="translate(700.57 333.60) rotate(-90) scale(0.95 1)" font-size="7.6" text-anchor="end" fill="#2f2f2f" stroke="#2f2f2f" stroke-width="0.28">2021</text>
<text class="s" transform="translate(714.70 333.60) rotate(-90) scale(0.95 1)" font-size="7.6" text-anchor="end" fill="#2f2f2f" stroke="#2f2f2f" stroke-width="0.28">2022</text>
<text class="s" transform="translate(728.84 333.60) rotate(-90) scale(0.95 1)" font-size="7.6" text-anchor="end" fill="#2f2f2f" stroke="#2f2f2f" stroke-width="0.28">2023</text>
<text class="s" transform="translate(742.97 333.60) rotate(-90) scale(0.95 1)" font-size="7.6" text-anchor="end" fill="#2f2f2f" stroke="#2f2f2f" stroke-width="0.28">2024</text>
<text class="s" transform="translate(757.11 333.60) rotate(-90) scale(0.95 1)" font-size="7.6" text-anchor="end" fill="#2f2f2f" stroke="#2f2f2f" stroke-width="0.28">2025</text>
<line x1="451.635" y1="330.5" x2="451.635" y2="333" stroke="#cccccc" stroke-width="1"/>
<line x1="465.77" y1="330.5" x2="465.77" y2="333" stroke="#cccccc" stroke-width="1"/>
<line x1="479.905" y1="330.5" x2="479.905" y2="333" stroke="#cccccc" stroke-width="1"/>
<line x1="494.04" y1="330.5" x2="494.04" y2="333" stroke="#cccccc" stroke-width="1"/>
<line x1="508.175" y1="330.5" x2="508.175" y2="333" stroke="#cccccc" stroke-width="1"/>
<line x1="522.31" y1="330.5" x2="522.31" y2="333" stroke="#cccccc" stroke-width="1"/>
<line x1="536.4449999999999" y1="330.5" x2="536.4449999999999" y2="333" stroke="#cccccc" stroke-width="1"/>
<line x1="550.58" y1="330.5" x2="550.58" y2="333" stroke="#cccccc" stroke-width="1"/>
<line x1="564.715" y1="330.5" x2="564.715" y2="333" stroke="#cccccc" stroke-width="1"/>
<line x1="578.85" y1="330.5" x2="578.85" y2="333" stroke="#cccccc" stroke-width="1"/>
<line x1="592.985" y1="330.5" x2="592.985" y2="333" stroke="#cccccc" stroke-width="1"/>
<line x1="607.12" y1="330.5" x2="607.12" y2="333" stroke="#cccccc" stroke-width="1"/>
<line x1="621.255" y1="330.5" x2="621.255" y2="333" stroke="#cccccc" stroke-width="1"/>
<line x1="635.39" y1="330.5" x2="635.39" y2="333" stroke="#cccccc" stroke-width="1"/>
<line x1="649.525" y1="330.5" x2="649.525" y2="333" stroke="#cccccc" stroke-width="1"/>
<line x1="663.66" y1="330.5" x2="663.66" y2="333" stroke="#cccccc" stroke-width="1"/>
<line x1="677.795" y1="330.5" x2="677.795" y2="333" stroke="#cccccc" stroke-width="1"/>
<line x1="691.9300000000001" y1="330.5" x2="691.9300000000001" y2="333" stroke="#cccccc" stroke-width="1"/>
<line x1="706.065" y1="330.5" x2="706.065" y2="333" stroke="#cccccc" stroke-width="1"/>
<line x1="720.2" y1="330.5" x2="720.2" y2="333" stroke="#cccccc" stroke-width="1"/>
<line x1="734.335" y1="330.5" x2="734.335" y2="333" stroke="#cccccc" stroke-width="1"/>
<line x1="748.47" y1="330.5" x2="748.47" y2="333" stroke="#cccccc" stroke-width="1"/>
<polyline points="444.20,302.30 458.33,310.70 472.47,313.00 486.61,293.70 500.74,297.40 514.88,287.00 529.01,265.00 543.14,299.00 557.28,296.00 571.41,282.70 585.55,322.00 599.68,323.50 613.82,295.60 627.95,315.60 642.09,320.60 656.23,317.80 670.36,313.20 684.50,295.50 698.63,299.00 712.76,260.50 726.90,221.20 741.03,275.30 755.17,294.00" fill="none" stroke="#2b73ae" stroke-width="2.8" stroke-linejoin="round" stroke-linecap="round"/>
<circle cx="444.20" cy="302.30" r="2.0" fill="#2b73ae"/>
<circle cx="458.33" cy="310.70" r="2.0" fill="#2b73ae"/>
<circle cx="472.47" cy="313.00" r="2.0" fill="#2b73ae"/>
<circle cx="486.61" cy="293.70" r="2.0" fill="#2b73ae"/>
<circle cx="500.74" cy="297.40" r="2.0" fill="#2b73ae"/>
<circle cx="514.88" cy="287.00" r="2.0" fill="#2b73ae"/>
<circle cx="529.01" cy="265.00" r="2.0" fill="#2b73ae"/>
<circle cx="543.14" cy="299.00" r="2.0" fill="#2b73ae"/>
<circle cx="557.28" cy="296.00" r="2.0" fill="#2b73ae"/>
<circle cx="571.41" cy="282.70" r="2.0" fill="#2b73ae"/>
<circle cx="585.55" cy="322.00" r="2.0" fill="#2b73ae"/>
<circle cx="599.68" cy="323.50" r="2.0" fill="#2b73ae"/>
<circle cx="613.82" cy="295.60" r="2.0" fill="#2b73ae"/>
<circle cx="627.95" cy="315.60" r="2.0" fill="#2b73ae"/>
<circle cx="642.09" cy="320.60" r="2.0" fill="#2b73ae"/>
<circle cx="656.23" cy="317.80" r="2.0" fill="#2b73ae"/>
<circle cx="670.36" cy="313.20" r="2.0" fill="#2b73ae"/>
<circle cx="684.50" cy="295.50" r="2.0" fill="#2b73ae"/>
<circle cx="698.63" cy="299.00" r="2.0" fill="#2b73ae"/>
<circle cx="712.76" cy="260.50" r="2.0" fill="#2b73ae"/>
<circle cx="726.90" cy="221.20" r="2.0" fill="#2b73ae"/>
<circle cx="741.03" cy="275.30" r="2.0" fill="#2b73ae"/>
<circle cx="755.17" cy="294.00" r="2.0" fill="#2b73ae"/>
<polyline points="444.20,301.60 458.33,298.50 472.47,289.50 486.61,280.50 500.74,286.50 514.88,281.80 529.01,313.50 543.14,305.70 557.28,297.30 571.41,314.20 585.55,291.70 599.68,303.50 613.82,316.50 627.95,306.00 642.09,322.50 656.23,317.30 670.36,312.50 684.50,320.50 698.63,306.50 712.76,272.60 726.90,301.00 741.03,317.50 755.17,323.00" fill="none" stroke="#f5802a" stroke-width="2.8" stroke-linejoin="round" stroke-linecap="round"/>
<circle cx="444.20" cy="301.60" r="2.0" fill="#f5802a"/>
<circle cx="458.33" cy="298.50" r="2.0" fill="#f5802a"/>
<circle cx="472.47" cy="289.50" r="2.0" fill="#f5802a"/>
<circle cx="486.61" cy="280.50" r="2.0" fill="#f5802a"/>
<circle cx="500.74" cy="286.50" r="2.0" fill="#f5802a"/>
<circle cx="514.88" cy="281.80" r="2.0" fill="#f5802a"/>
<circle cx="529.01" cy="313.50" r="2.0" fill="#f5802a"/>
<circle cx="543.14" cy="305.70" r="2.0" fill="#f5802a"/>
<circle cx="557.28" cy="297.30" r="2.0" fill="#f5802a"/>
<circle cx="571.41" cy="314.20" r="2.0" fill="#f5802a"/>
<circle cx="585.55" cy="291.70" r="2.0" fill="#f5802a"/>
<circle cx="599.68" cy="303.50" r="2.0" fill="#f5802a"/>
<circle cx="613.82" cy="316.50" r="2.0" fill="#f5802a"/>
<circle cx="627.95" cy="306.00" r="2.0" fill="#f5802a"/>
<circle cx="642.09" cy="322.50" r="2.0" fill="#f5802a"/>
<circle cx="656.23" cy="317.30" r="2.0" fill="#f5802a"/>
<circle cx="670.36" cy="312.50" r="2.0" fill="#f5802a"/>
<circle cx="684.50" cy="320.50" r="2.0" fill="#f5802a"/>
<circle cx="698.63" cy="306.50" r="2.0" fill="#f5802a"/>
<circle cx="712.76" cy="272.60" r="2.0" fill="#f5802a"/>
<circle cx="726.90" cy="301.00" r="2.0" fill="#f5802a"/>
<circle cx="741.03" cy="317.50" r="2.0" fill="#f5802a"/>
<circle cx="755.17" cy="323.00" r="2.0" fill="#f5802a"/>
<text class="s" transform="translate(740.70 223.80) scale(0.97 1)" font-size="7.6" text-anchor="middle" fill="#2f2f2f" stroke="#2f2f2f" stroke-width="0.28">174.6</text>
<text class="s" transform="translate(713.20 268.70) scale(0.97 1)" font-size="7.6" text-anchor="middle" fill="#2f2f2f" stroke="#2f2f2f" stroke-width="0.28">86.40</text>
<text class="s" transform="translate(594.40 318.20) scale(0.97 1)" font-size="7.6" text-anchor="middle" fill="#2f2f2f" stroke="#2f2f2f" stroke-width="0.28">0.7</text>
<text class="s" transform="translate(755.40 325.60) scale(0.97 1)" font-size="7.6" text-anchor="middle" fill="#2f2f2f" stroke="#2f2f2f" stroke-width="0.28">1.60</text>
</g>
<g id="c6">
<rect x="409.00" y="354.00" width="380.50" height="12.50" fill="#eaebee" />
<text class="s" transform="translate(599.45 363.20)" font-size="9.1" text-anchor="middle" font-weight="bold" fill="#111" stroke="#111" stroke-width="0.2">Beef and Veal Inflation Forecast</text>
<text class="s" transform="translate(615.00 376.80)" font-size="7.6" text-anchor="middle" fill="#2f2f2f" stroke="#2f2f2f" stroke-width="0.25">Date</text>
<line x1="409" y1="380.3" x2="790" y2="380.3" stroke="#cccccc" stroke-width="1"/>
<line x1="409" y1="458.3" x2="790" y2="458.3" stroke="#cccccc" stroke-width="1"/>
<line x1="439.5" y1="368" x2="439.5" y2="476" stroke="#cccccc" stroke-width="1"/>
<line x1="790" y1="368" x2="790" y2="458.3" stroke="#e2e2e2" stroke-width="1"/>
<text class="s" transform="translate(437.00 392.24) scale(0.97 1)" font-size="7.6" text-anchor="end" fill="#2f2f2f" stroke="#2f2f2f" stroke-width="0.42">600</text>
<text class="s" transform="translate(437.00 409.74) scale(0.97 1)" font-size="7.6" text-anchor="end" fill="#2f2f2f" stroke="#2f2f2f" stroke-width="0.42">400</text>
<text class="s" transform="translate(437.00 426.24) scale(0.97 1)" font-size="7.6" text-anchor="end" fill="#2f2f2f" stroke="#2f2f2f" stroke-width="0.42">200</text>
<text class="s" transform="translate(437.00 443.04) scale(0.97 1)" font-size="7.6" text-anchor="end" fill="#2f2f2f" stroke="#2f2f2f" stroke-width="0.42">0</text>
<text class="s" transform="translate(437.00 456.24) scale(0.97 1)" font-size="7.6" text-anchor="end" fill="#2f2f2f" stroke="#2f2f2f" stroke-width="0.42">-200</text>
<line x1="436.5" y1="389.6" x2="439.5" y2="389.6" stroke="#e0e0e0" stroke-width="1"/>
<line x1="436.5" y1="406.5" x2="439.5" y2="406.5" stroke="#e0e0e0" stroke-width="1"/>
<line x1="436.5" y1="423.40000000000003" x2="439.5" y2="423.40000000000003" stroke="#e0e0e0" stroke-width="1"/>
<line x1="436.5" y1="440.3" x2="439.5" y2="440.3" stroke="#e0e0e0" stroke-width="1"/>
<line x1="436.5" y1="457.2" x2="439.5" y2="457.2" stroke="#e0e0e0" stroke-width="1"/>
<text class="s" transform="translate(417.74 419.00) rotate(-90) scale(1.02 1)" font-size="7.6" text-anchor="middle" fill="#2f2f2f" stroke="#2f2f2f" stroke-width="0.28">Beef and veal</text>
<text class="s" transform="translate(448.54 461.80) rotate(-90) scale(0.95 1)" font-size="7.6" text-anchor="end" fill="#2f2f2f" stroke="#2f2f2f" stroke-width="0.28">2003</text>
<text class="s" transform="translate(463.83 461.80) rotate(-90) scale(0.95 1)" font-size="7.6" text-anchor="end" fill="#2f2f2f" stroke="#2f2f2f" stroke-width="0.28">2004</text>
<text class="s" transform="translate(479.12 461.80) rotate(-90) scale(0.95 1)" font-size="7.6" text-anchor="end" fill="#2f2f2f" stroke="#2f2f2f" stroke-width="0.28">2005</text>
<text class="s" transform="translate(494.41 461.80) rotate(-90) scale(0.95 1)" font-size="7.6" text-anchor="end" fill="#2f2f2f" stroke="#2f2f2f" stroke-width="0.28">2006</text>
<text class="s" transform="translate(509.70 461.80) rotate(-90) scale(0.95 1)" font-size="7.6" text-anchor="end" fill="#2f2f2f" stroke="#2f2f2f" stroke-width="0.28">2007</text>
<text class="s" transform="translate(524.99 461.80) rotate(-90) scale(0.95 1)" font-size="7.6" text-anchor="end" fill="#2f2f2f" stroke="#2f2f2f" stroke-width="0.28">2008</text>
<text class="s" transform="translate(540.28 461.80) rotate(-90) scale(0.95 1)" font-size="7.6" text-anchor="end" fill="#2f2f2f" stroke="#2f2f2f" stroke-width="0.28">2009</text>
<text class="s" transform="translate(555.57 461.80) rotate(-90) scale(0.95 1)" font-size="7.6" text-anchor="end" fill="#2f2f2f" stroke="#2f2f2f" stroke-width="0.28">2010</text>
<text class="s" transform="translate(570.86 461.80) rotate(-90) scale(0.95 1)" font-size="7.6" text-anchor="end" fill="#2f2f2f" stroke="#2f2f2f" stroke-width="0.28">2011</text>
<text class="s" transform="translate(586.15 461.80) rotate(-90) scale(0.95 1)" font-size="7.6" text-anchor="end" fill="#2f2f2f" stroke="#2f2f2f" stroke-width="0.28">2012</text>
<text class="s" transform="translate(601.44 461.80) rotate(-90) scale(0.95 1)" font-size="7.6" text-anchor="end" fill="#2f2f2f" stroke="#2f2f2f" stroke-width="0.28">2013</text>
<text class="s" transform="translate(616.73 461.80) rotate(-90) scale(0.95 1)" font-size="7.6" text-anchor="end" fill="#2f2f2f" stroke="#2f2f2f" stroke-width="0.28">2014</text>
<text class="s" transform="translate(632.02 461.80) rotate(-90) scale(0.95 1)" font-size="7.6" text-anchor="end" fill="#2f2f2f" stroke="#2f2f2f" stroke-width="0.28">2015</text>
<text class="s" transform="translate(647.31 461.80) rotate(-90) scale(0.95 1)" font-size="7.6" text-anchor="end" fill="#2f2f2f" stroke="#2f2f2f" stroke-width="0.28">2016</text>
<text class="s" transform="translate(662.60 461.80) rotate(-90) scale(0.95 1)" font-size="7.6" text-anchor="end" fill="#2f2f2f" stroke="#2f2f2f" stroke-width="0.28">2017</text>
<text class="s" transform="translate(677.89 461.80) rotate(-90) scale(0.95 1)" font-size="7.6" text-anchor="end" fill="#2f2f2f" stroke="#2f2f2f" stroke-width="0.28">2018</text>
<text class="s" transform="translate(693.18 461.80) rotate(-90) scale(0.95 1)" font-size="7.6" text-anchor="end" fill="#2f2f2f" stroke="#2f2f2f" stroke-width="0.28">2019</text>
<text class="s" transform="translate(708.47 461.80) rotate(-90) scale(0.95 1)" font-size="7.6" text-anchor="end" fill="#2f2f2f" stroke="#2f2f2f" stroke-width="0.28">2020</text>
<text class="s" transform="translate(723.76 461.80) rotate(-90) scale(0.95 1)" font-size="7.6" text-anchor="end" fill="#2f2f2f" stroke="#2f2f2f" stroke-width="0.28">2021</text>
<text class="s" transform="translate(739.05 461.80) rotate(-90) scale(0.95 1)" font-size="7.6" text-anchor="end" fill="#2f2f2f" stroke="#2f2f2f" stroke-width="0.28">2022</text>
<text class="s" transform="translate(754.34 461.80) rotate(-90) scale(0.95 1)" font-size="7.6" text-anchor="end" fill="#2f2f2f" stroke="#2f2f2f" stroke-width="0.28">2023</text>
<text class="s" transform="translate(769.63 461.80) rotate(-90) scale(0.95 1)" font-size="7.6" text-anchor="end" fill="#2f2f2f" stroke="#2f2f2f" stroke-width="0.28">2024</text>
<text class="s" transform="translate(784.92 461.80) rotate(-90) scale(0.95 1)" font-size="7.6" text-anchor="end" fill="#2f2f2f" stroke="#2f2f2f" stroke-width="0.28">2025</text>
<line x1="454.79" y1="458.3" x2="454.79" y2="461" stroke="#cccccc" stroke-width="1"/>
<line x1="470.08" y1="458.3" x2="470.08" y2="461" stroke="#cccccc" stroke-width="1"/>
<line x1="485.37" y1="458.3" x2="485.37" y2="461" stroke="#cccccc" stroke-width="1"/>
<line x1="500.65999999999997" y1="458.3" x2="500.65999999999997" y2="461" stroke="#cccccc" stroke-width="1"/>
<line x1="515.95" y1="458.3" x2="515.95" y2="461" stroke="#cccccc" stroke-width="1"/>
<line x1="531.24" y1="458.3" x2="531.24" y2="461" stroke="#cccccc" stroke-width="1"/>
<line x1="546.53" y1="458.3" x2="546.53" y2="461" stroke="#cccccc" stroke-width="1"/>
<line x1="561.8199999999999" y1="458.3" x2="561.8199999999999" y2="461" stroke="#cccccc" stroke-width="1"/>
<line x1="577.11" y1="458.3" x2="577.11" y2="461" stroke="#cccccc" stroke-width="1"/>
<line x1="592.4" y1="458.3" x2="592.4" y2="461" stroke="#cccccc" stroke-width="1"/>
<line x1="607.69" y1="458.3" x2="607.69" y2="461" stroke="#cccccc" stroke-width="1"/>
<line x1="622.98" y1="458.3" x2="622.98" y2="461" stroke="#cccccc" stroke-width="1"/>
<line x1="638.27" y1="458.3" x2="638.27" y2="461" stroke="#cccccc" stroke-width="1"/>
<line x1="653.56" y1="458.3" x2="653.56" y2="461" stroke="#cccccc" stroke-width="1"/>
<line x1="668.85" y1="458.3" x2="668.85" y2="461" stroke="#cccccc" stroke-width="1"/>
<line x1="684.14" y1="458.3" x2="684.14" y2="461" stroke="#cccccc" stroke-width="1"/>
<line x1="699.4300000000001" y1="458.3" x2="699.4300000000001" y2="461" stroke="#cccccc" stroke-width="1"/>
<line x1="714.72" y1="458.3" x2="714.72" y2="461" stroke="#cccccc" stroke-width="1"/>
<line x1="730.01" y1="458.3" x2="730.01" y2="461" stroke="#cccccc" stroke-width="1"/>
<line x1="745.3" y1="458.3" x2="745.3" y2="461" stroke="#cccccc" stroke-width="1"/>
<line x1="760.5899999999999" y1="458.3" x2="760.5899999999999" y2="461" stroke="#cccccc" stroke-width="1"/>
<line x1="775.88" y1="458.3" x2="775.88" y2="461" stroke="#cccccc" stroke-width="1"/>
<line x1="439.5" y1="440.3" x2="790" y2="440.3" stroke="#e4e4e4" stroke-width="1"/>
<polygon points="446.30,430.00 461.59,415.00 476.88,426.50 492.17,431.50 507.46,429.50 522.75,429.50 538.04,430.00 553.33,431.00 568.62,422.00 583.91,424.00 599.20,428.50 614.49,422.00 629.78,419.50 645.07,436.00 660.36,433.50 675.65,431.00 690.94,431.50 706.23,423.50 721.52,425.00 736.81,420.00 752.10,427.00 767.39,422.00 782.68,426.00 782.68,440.30 767.39,440.30 752.10,440.30 736.81,440.30 721.52,440.30 706.23,440.30 690.94,440.30 675.65,440.30 660.36,440.30 645.07,440.30 629.78,440.30 614.49,440.30 599.20,440.30 583.91,440.30 568.62,440.30 553.33,440.30 538.04,440.30 522.75,440.30 507.46,440.30 492.17,440.30 476.88,440.30 461.59,440.30 446.30,440.30" fill="#f8750a" fill-opacity="0.6"/>
<polyline points="446.30,430.00 461.59,415.00 476.88,426.50 492.17,431.50 507.46,429.50 522.75,429.50 538.04,430.00 553.33,431.00 568.62,422.00 583.91,424.00 599.20,428.50 614.49,422.00 629.78,419.50 645.07,436.00 660.36,433.50 675.65,431.00 690.94,431.50 706.23,423.50 721.52,425.00 736.81,420.00 752.10,427.00 767.39,422.00 782.68,426.00" fill="none" stroke="#f8750a" stroke-opacity="0.2" stroke-width="1" stroke-linejoin="round"/>
<polygon points="446.30,423.50 461.59,396.50 476.88,420.00 492.17,429.00 507.46,423.00 522.75,424.00 538.04,427.00 553.33,428.50 568.62,410.00 583.91,414.00 599.20,424.00 614.49,410.00 629.78,405.00 645.07,443.50 660.36,440.50 675.65,428.00 690.94,431.00 706.23,413.00 721.52,418.50 736.81,410.00 752.10,426.50 767.39,413.50 782.68,421.00 782.68,426.00 767.39,422.00 752.10,427.00 736.81,420.00 721.52,425.00 706.23,423.50 690.94,431.50 675.65,431.00 660.36,440.30 645.07,440.30 629.78,419.50 614.49,422.00 599.20,428.50 583.91,424.00 568.62,422.00 553.33,431.00 538.04,430.00 522.75,429.50 507.46,429.50 492.17,431.50 476.88,426.50 461.59,415.00 446.30,430.00" fill="#2470b2" fill-opacity="0.6"/>
<polyline points="446.30,423.50 461.59,396.50 476.88,420.00 492.17,429.00 507.46,423.00 522.75,424.00 538.04,427.00 553.33,428.50 568.62,410.00 583.91,414.00 599.20,424.00 614.49,410.00 629.78,405.00 645.07,443.50 660.36,440.50 675.65,428.00 690.94,431.00 706.23,413.00 721.52,418.50 736.81,410.00 752.10,426.50 767.39,413.50 782.68,421.00" fill="none" stroke="#2470b2" stroke-opacity="0.35" stroke-width="1.2" stroke-linejoin="round"/>
<polygon points="446.30,423.50 461.59,384.00 476.88,440.50 492.17,443.50 507.46,441.50 522.75,441.50 538.04,443.00 553.33,445.00 568.62,405.00 583.91,411.50 599.20,441.00 614.49,405.00 629.78,400.00 645.07,453.50 660.36,450.00 675.65,444.50 690.94,445.00 706.23,410.00 721.52,444.00 736.81,441.50 752.10,448.00 767.39,443.50 782.68,445.00 782.68,440.30 767.39,440.30 752.10,440.30 736.81,440.30 721.52,440.30 706.23,413.00 690.94,440.30 675.65,440.30 660.36,440.50 645.07,443.50 629.78,405.00 614.49,410.00 599.20,440.30 583.91,414.00 568.62,410.00 553.33,440.30 538.04,440.30 522.75,440.30 507.46,440.30 492.17,440.30 476.88,440.30 461.59,396.50 446.30,423.50" fill="#b6c62b" fill-opacity="0.6"/>
<polyline points="446.30,423.50 461.59,384.00 476.88,440.50 492.17,443.50 507.46,441.50 522.75,441.50 538.04,443.00 553.33,445.00 568.62,405.00 583.91,411.50 599.20,441.00 614.49,405.00 629.78,400.00 645.07,453.50 660.36,450.00 675.65,444.50 690.94,445.00 706.23,410.00 721.52,444.00 736.81,441.50 752.10,448.00 767.39,443.50 782.68,445.00" fill="none" stroke="#b6c62b" stroke-opacity="0.18" stroke-width="1.0" stroke-linejoin="round"/>
</g>
</svg></body></html>
